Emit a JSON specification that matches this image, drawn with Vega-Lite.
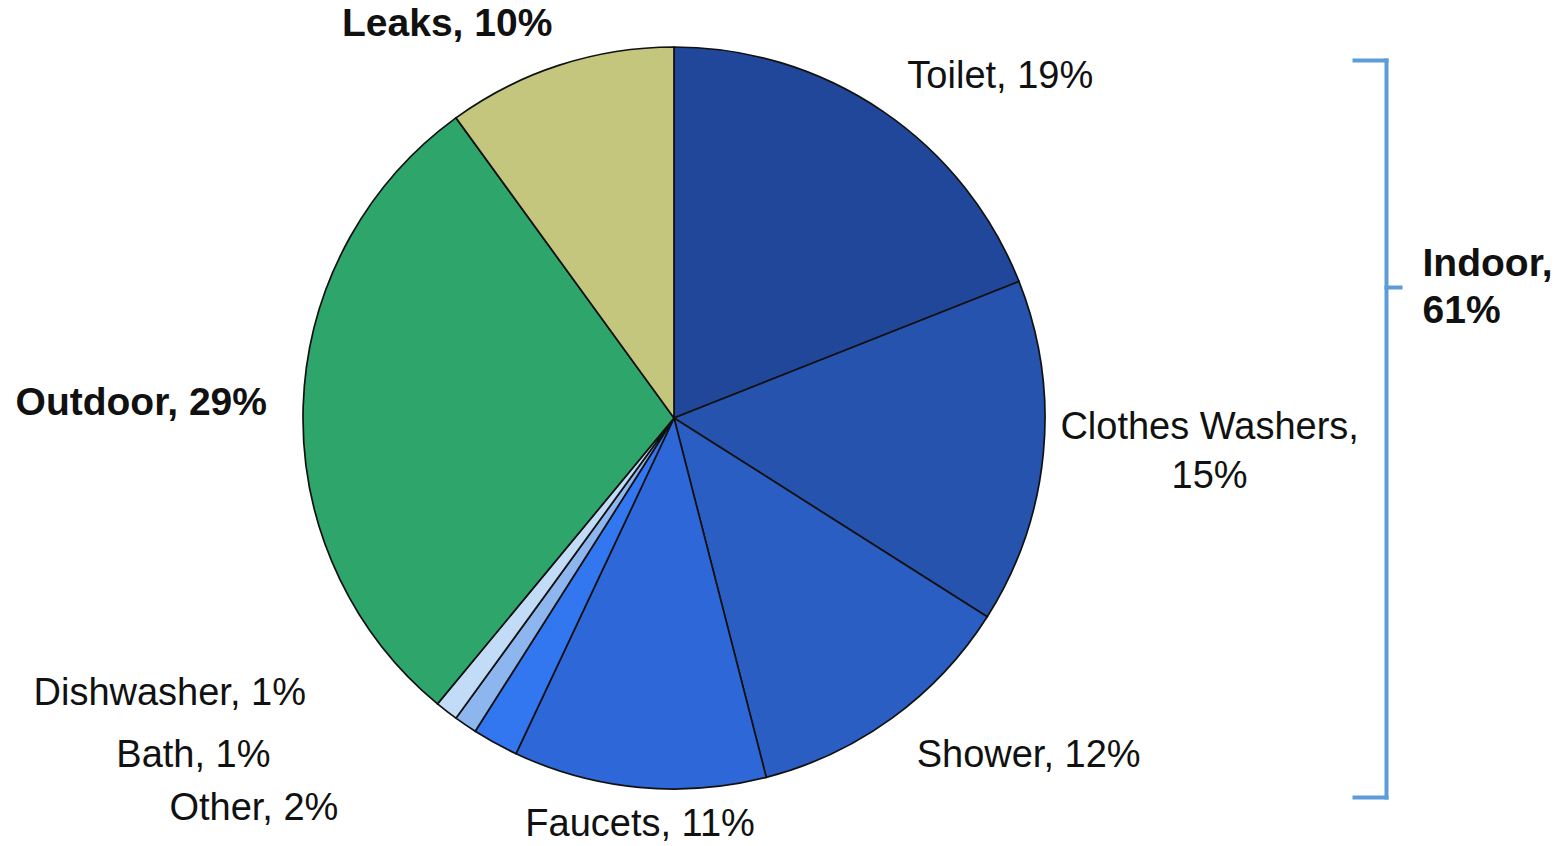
{
  "$schema": "https://vega.github.io/schema/vega-lite/v6.json",
  "autosize": {"type": "none"},
  "width": 1348,
  "height": 836,
  "padding": {"left": 0, "right": 220, "top": 0, "bottom": 10},
  "background": "white",
  "config": {"view": {"stroke": null}},
  "layer": [
    {
      "data": {
        "values": [
          {"cat": "Toilet", "pct": 19, "order": 1, "label": "Toilet, 19%"},
          {"cat": "Clothes Washers", "pct": 15, "order": 2, "label": "Clothes Washers,\n15%"},
          {"cat": "Shower", "pct": 12, "order": 3, "label": "Shower, 12%"},
          {"cat": "Faucets", "pct": 11, "order": 4, "label": "Faucets, 11%"},
          {"cat": "Other", "pct": 2, "order": 5, "label": "Other, 2%"},
          {"cat": "Bath", "pct": 1, "order": 6, "label": "Bath, 1%"},
          {"cat": "Dishwasher", "pct": 1, "order": 7, "label": "Dishwasher, 1%"},
          {"cat": "Outdoor", "pct": 29, "order": 8, "label": "Outdoor, 29%"},
          {"cat": "Leaks", "pct": 10, "order": 9, "label": "Leaks, 10%"}
        ]
      },
      "encoding": {
        "theta": {"field": "pct", "type": "quantitative", "stack": true, "scale": {"domain": [0, 100]}},
        "order": {"field": "order", "type": "quantitative"}
      },
      "layer": [
        {
          "mark": {"type": "arc", "radius": 371, "stroke": "#111111", "strokeWidth": 1.7},
          "encoding": {
            "color": {
              "field": "cat", "type": "nominal", "legend": null,
              "scale": {
                "domain": ["Toilet", "Clothes Washers", "Shower", "Faucets", "Other", "Bath", "Dishwasher", "Outdoor", "Leaks"],
                "range": ["#21479b", "#2553ae", "#2a5ec3", "#2e67d7", "#3377f0", "#8db5ee", "#c2dbf6", "#2ea56b", "#c5c67e"]
              }
            }
          }
        },
        {
          "mark": {"type": "text", "radius": 456, "dx": 70, "dy": 47, "align": "center", "baseline": "alphabetic", "font": "Liberation Sans", "fontSize": 38, "fill": "#111111"},
          "encoding": {"text": {"condition": {"test": "datum.cat === 'Toilet'", "field": "label", "type": "nominal"}, "value": ""}}
        },
        {
          "mark": {"type": "text", "radius": 536, "dx": 2, "dy": -29, "align": "center", "baseline": "alphabetic", "lineBreak": "\n", "lineHeight": 49, "font": "Liberation Sans", "fontSize": 38, "fill": "#111111"},
          "encoding": {"text": {"condition": {"test": "datum.cat === 'Clothes Washers'", "field": "label", "type": "nominal"}, "value": ""}}
        },
        {
          "mark": {"type": "text", "radius": 491, "dx": 66, "dy": -48, "align": "center", "baseline": "alphabetic", "font": "Liberation Sans", "fontSize": 38, "fill": "#111111"},
          "encoding": {"text": {"condition": {"test": "datum.cat === 'Shower'", "field": "label", "type": "nominal"}, "value": ""}}
        },
        {
          "mark": {"type": "text", "radius": 424, "dx": 6, "dy": -4, "align": "center", "baseline": "alphabetic", "font": "Liberation Sans", "fontSize": 38, "fill": "#111111"},
          "encoding": {"text": {"condition": {"test": "datum.cat === 'Faucets'", "field": "label", "type": "nominal"}, "value": ""}}
        },
        {
          "mark": {"type": "text", "radius": 452, "dx": -91, "dy": -70, "align": "right", "baseline": "alphabetic", "font": "Liberation Sans", "fontSize": 38, "fill": "#111111"},
          "encoding": {"text": {"condition": {"test": "datum.cat === 'Dishwasher'", "field": "label", "type": "nominal"}, "value": ""}}
        },
        {
          "mark": {"type": "text", "radius": 515, "dx": -114, "dy": -77, "align": "right", "baseline": "alphabetic", "font": "Liberation Sans", "fontSize": 38, "fill": "#111111"},
          "encoding": {"text": {"condition": {"test": "datum.cat === 'Bath'", "field": "label", "type": "nominal"}, "value": ""}}
        },
        {
          "mark": {"type": "text", "radius": 514, "dx": -88, "dy": -48, "align": "right", "baseline": "alphabetic", "font": "Liberation Sans", "fontSize": 38, "fill": "#111111"},
          "encoding": {"text": {"condition": {"test": "datum.cat === 'Other'", "field": "label", "type": "nominal"}, "value": ""}}
        },
        {
          "mark": {"type": "text", "radius": 533, "dx": 0, "dy": 14, "align": "center", "baseline": "alphabetic", "font": "Liberation Sans", "fontSize": 39, "fontWeight": "bold", "fill": "#111111"},
          "encoding": {"text": {"condition": {"test": "datum.cat === 'Outdoor'", "field": "label", "type": "nominal"}, "value": ""}}
        },
        {
          "mark": {"type": "text", "radius": 433, "dx": -93, "dy": 30, "align": "center", "baseline": "alphabetic", "font": "Liberation Sans", "fontSize": 39, "fontWeight": "bold", "fill": "#111111"},
          "encoding": {"text": {"condition": {"test": "datum.cat === 'Leaks'", "field": "label", "type": "nominal"}, "value": ""}}
        }
      ]
    },
    {
      "data": {"values": [{"group": "Indoor", "share": 0}, {"group": "Indoor", "share": 61}]},
      "mark": {"type": "rule", "opacity": 0},
      "encoding": {
        "y": {
          "field": "share", "type": "quantitative",
          "scale": {"domain": [0, 61], "range": [60, 797], "nice": false, "zero": false},
          "axis": {
            "orient": "right",
            "offset": 38,
            "values": [0, 18.8, 61],
            "labels": false,
            "grid": false,
            "domain": true,
            "domainColor": "#5d9bd9",
            "domainWidth": 4,
            "domainCap": "square",
            "ticks": true,
            "tickColor": "#5d9bd9",
            "tickWidth": 4,
            "tickCap": "square",
            "tickSize": {"condition": {"test": "datum.value > 1 && datum.value < 60", "value": 14}, "value": -32},
            "title": ["Indoor,", "61%"],
            "titleAngle": 0,
            "titleAlign": "left",
            "titleBaseline": "alphabetic",
            "titleX": 36,
            "titleY": 275,
            "titleLineHeight": 47,
            "titleFont": "Liberation Sans",
            "titleFontSize": 39,
            "titleFontWeight": "bold",
            "titleColor": "#111111"
          }
        }
      }
    }
  ]
}
